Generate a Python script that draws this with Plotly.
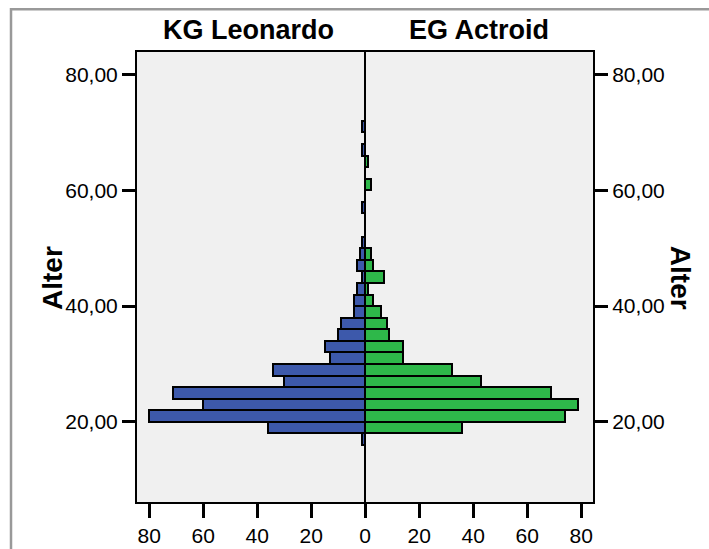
import plotly.graph_objects as go

# Age bins (2-year bins), centres
age_centers = [17, 19, 21, 23, 25, 27, 29, 31, 33, 35, 37, 39, 41, 43, 45, 47, 49,
               51, 53, 55, 57, 59, 61, 63, 65, 67, 69, 71]
kg_leonardo = [1, 36, 80, 60, 71, 30, 34, 13, 15, 10, 9, 4, 4, 3, 1, 3, 2,
               1, 0, 0, 1, 0, 0, 0, 0, 1, 0, 1]
eg_actroid = [0, 36, 74, 79, 69, 43, 32, 14, 14, 9, 8, 6, 3, 1, 7, 3, 2,
              0, 0, 0, 0, 0, 2, 0, 1, 0, 0, 0]
bin_width = 2

x_tickvals = [-80, -60, -40, -20, 0, 20, 40, 60, 80]
x_ticktext = ["80", "60", "40", "20", "0", "20", "40", "60", "80"]
y_tickvals = [20, 40, 60, 80]
y_ticktext = ["20,00", "40,00", "60,00", "80,00"]
group_titles = ["KG Leonardo", "EG Actroid"]
axis_title = "Alter"

BLUE = "#3D59AB"
GREEN = "#2EB84A"
FONT = "Liberation Sans, Arial, sans-serif"

fig = go.Figure()
fig.add_trace(go.Bar(
    y=age_centers, x=[-v for v in kg_leonardo], orientation="h",
    width=bin_width, marker=dict(color=BLUE, line=dict(color="black", width=2)),
    name=group_titles[0], showlegend=False, xaxis="x", yaxis="y"))
fig.add_trace(go.Bar(
    y=age_centers, x=eg_actroid, orientation="h",
    width=bin_width, marker=dict(color=GREEN, line=dict(color="black", width=2)),
    name=group_titles[1], showlegend=False, xaxis="x", yaxis="y2"))

yrange = [6.15, 83.9]
tickfont = dict(family=FONT, size=21, color="black")

fig.update_layout(
    width=709, height=549,
    margin=dict(l=137, r=116, t=52, b=47, pad=0, autoexpand=False),
    paper_bgcolor="white", plot_bgcolor="#F0F0F0",
    barmode="overlay", bargap=0,
    xaxis=dict(range=[-84.5, 84.4], tickvals=x_tickvals, ticktext=x_ticktext,
               ticks="outside", ticklen=14, tickwidth=2.5, tickcolor="black",
               showgrid=False, zeroline=True, zerolinecolor="black", zerolinewidth=2,
               showline=True, linecolor="black", linewidth=2, mirror=True,
               tickfont=tickfont, automargin=False),
    yaxis=dict(range=yrange, tickvals=y_tickvals, ticktext=y_ticktext,
               ticks="outside", ticklen=13, tickwidth=2.5, tickcolor="black",
               showgrid=False, zeroline=False,
               showline=True, linecolor="black", linewidth=2, mirror=True,
               tickfont=tickfont, automargin=False),
    yaxis2=dict(range=yrange, tickvals=y_tickvals, ticktext=y_ticktext,
                overlaying="y", side="right", anchor="x",
                ticks="outside", ticklen=13, tickwidth=2.5, tickcolor="black",
                showgrid=False, zeroline=False,
                showline=True, linecolor="black", linewidth=2,
                tickfont=tickfont, automargin=False),
    shapes=[dict(type="rect", xref="paper", yref="paper",
                 x0=-0.2763, x1=1.4, y0=-0.3, y1=1.095,
                 line=dict(color="#999999", width=2.5), layer="below")],
    annotations=[
        dict(text=group_titles[0], xref="paper", yref="paper", x=0.2456, y=1.049,
             xanchor="center", yanchor="middle", showarrow=False,
             font=dict(family=FONT, size=27, color="black", weight="bold")),
        dict(text=group_titles[1], xref="paper", yref="paper", x=0.751, y=1.049,
             xanchor="center", yanchor="middle", showarrow=False,
             font=dict(family=FONT, size=27, color="black", weight="bold")),
        dict(text=axis_title, xref="paper", yref="paper", x=-0.184, y=0.498,
             xanchor="center", yanchor="middle", showarrow=False, textangle=-90,
             font=dict(family=FONT, size=28, color="black", weight="bold")),
        dict(text=axis_title, xref="paper", yref="paper", x=1.191, y=0.498,
             xanchor="center", yanchor="middle", showarrow=False, textangle=90,
             font=dict(family=FONT, size=28, color="black", weight="bold")),
    ],
)

fig.write_html("out.html")
